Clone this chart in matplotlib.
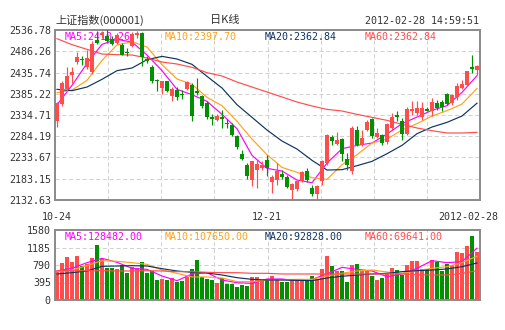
import matplotlib
matplotlib.use('Agg')
import matplotlib.pyplot as plt
import numpy as np

W, H = 505, 330

# ---------------- data ----------------
opens = [2321.2, 2360.8, 2396.5, 2429.8, 2459.9, 2468.6, 2448.0, 2436.1, 2512.2, 2524.1,
         2521.7, 2515.4, 2505.8, 2500.3, 2484.5, 2497.9, 2524.1, 2529.6, 2467.8, 2448.0,
         2418.7, 2398.9, 2414.7, 2379.0, 2394.9, 2385.4, 2397.3, 2406.8, 2392.5, 2379.0,
         2363.2, 2329.1, 2322.0, 2329.9, 2315.6, 2311.7, 2283.9, 2242.7, 2216.6, 2180.9,
         2204.7, 2208.7, 2228.5, 2175.4, 2180.9, 2195.2, 2187.3, 2157.2, 2158.8, 2177.0,
         2202.3, 2161.1, 2146.9, 2178.5, 2220.6, 2281.6, 2265.7, 2277.6, 2230.1, 2200.7,
         2298.2, 2264.1, 2299.8, 2325.2, 2282.4, 2287.9, 2270.5, 2303.8, 2333.9, 2319.6,
         2289.5, 2343.4, 2339.4, 2329.1, 2349.7, 2343.4, 2363.2, 2365.6, 2385.4, 2363.2,
         2376.7, 2398.9, 2406.8, 2448.0, 2442.5]
highs = [2365.6, 2414.7, 2448.8, 2448.8, 2484.5, 2474.1, 2490.0, 2509.8, 2533.6, 2533.6,
         2539.1, 2521.7, 2529.6, 2505.8, 2494.0, 2532.0, 2533.6, 2532.0, 2474.1, 2452.8,
         2420.3, 2416.3, 2416.3, 2400.5, 2400.5, 2394.9, 2414.7, 2410.8, 2422.6, 2383.0,
         2367.2, 2337.0, 2337.0, 2347.4, 2326.0, 2315.6, 2287.9, 2252.2, 2220.6, 2226.1,
         2228.5, 2224.5, 2238.8, 2192.8, 2220.6, 2204.7, 2192.8, 2173.0, 2180.9, 2200.7,
         2208.7, 2169.0, 2169.0, 2228.5, 2289.5, 2287.9, 2294.3, 2280.0, 2244.3, 2307.7,
         2309.3, 2299.8, 2323.6, 2327.6, 2303.8, 2289.5, 2315.6, 2339.4, 2343.4, 2327.6,
         2352.9, 2367.2, 2367.2, 2365.6, 2354.5, 2375.1, 2371.1, 2371.1, 2387.0, 2384.6,
         2410.8, 2418.7, 2438.5, 2478.1, 2454.3]
lows = [2305.4, 2356.9, 2390.9, 2410.8, 2455.9, 2454.3, 2444.8, 2432.9, 2503.5, 2517.7,
        2505.8, 2500.3, 2503.5, 2476.5, 2474.1, 2495.5, 2517.7, 2450.4, 2458.3, 2410.8,
        2390.9, 2385.4, 2388.6, 2368.8, 2371.1, 2373.5, 2394.9, 2319.6, 2383.0, 2351.3,
        2326.0, 2311.7, 2319.6, 2303.8, 2303.8, 2283.9, 2254.6, 2228.5, 2183.3, 2165.1,
        2161.1, 2204.7, 2188.9, 2149.2, 2169.0, 2183.3, 2161.1, 2133.4, 2153.2, 2174.6,
        2175.4, 2141.3, 2134.0, 2169.0, 2216.6, 2264.1, 2264.1, 2224.5, 2204.7, 2195.2,
        2260.2, 2260.2, 2295.9, 2280.0, 2280.0, 2262.6, 2265.7, 2299.8, 2319.6, 2276.0,
        2286.3, 2333.9, 2333.9, 2323.6, 2343.4, 2331.5, 2347.4, 2343.4, 2357.6, 2357.6,
        2371.1, 2396.5, 2404.4, 2434.5, 2430.6]
closes = [2363.2, 2410.8, 2428.2, 2436.1, 2472.6, 2465.4, 2470.2, 2503.5, 2505.8, 2529.6,
          2509.8, 2503.5, 2525.7, 2478.1, 2481.3, 2527.2, 2529.6, 2472.6, 2462.3, 2414.7,
          2416.3, 2414.7, 2390.9, 2397.3, 2377.5, 2381.4, 2412.3, 2331.5, 2387.0, 2355.3,
          2329.1, 2326.0, 2333.1, 2326.0, 2313.3, 2287.9, 2258.6, 2230.9, 2190.5, 2224.5,
          2218.2, 2215.0, 2208.7, 2186.5, 2200.7, 2187.3, 2162.7, 2170.6, 2177.0, 2199.2,
          2180.9, 2146.9, 2165.1, 2224.5, 2286.3, 2272.1, 2274.5, 2242.0, 2215.0, 2303.8,
          2264.1, 2280.0, 2317.2, 2283.9, 2291.9, 2268.1, 2313.3, 2329.1, 2330.7, 2289.5,
          2348.9, 2349.7, 2351.3, 2351.3, 2345.0, 2365.6, 2351.3, 2352.9, 2360.8, 2383.0,
          2402.8, 2408.4, 2438.5, 2444.8, 2452.0]
volumes = [654, 842, 978, 858, 993, 775, 812, 956, 1241, 918,
           730, 730, 700, 790, 617, 737, 715, 858, 617, 662,
           451, 474, 451, 504, 414, 436, 527, 692, 903, 527,
           474, 451, 391, 489, 361, 361, 300, 338, 316, 512,
           512, 451, 466, 542, 474, 414, 414, 451, 466, 466,
           451, 542, 466, 700, 993, 767, 654, 654, 414, 790,
           812, 662, 662, 542, 451, 504, 587, 715, 677, 564,
           790, 880, 880, 692, 692, 903, 865, 662, 812, 790,
           1076, 1053, 1226, 1444, 1091]

# moving-average lines at every third trading day
ma_days = [0, 3, 6, 9, 12, 15, 18, 21, 24, 27, 30, 33, 36, 39, 42,
           45, 48, 51, 54, 57, 60, 63, 66, 69, 72, 75, 78, 81, 84]
price_ma5 = [2359.2, 2405.2, 2457.5, 2502.7, 2514.6, 2508.2, 2477.3, 2440.1, 2395.7, 2383.0,
             2367.2, 2336.2, 2302.2, 2238.8, 2207.9, 2201.5, 2180.1, 2173.8, 2220.5, 2254.6,
             2262.5, 2268.1, 2289.5, 2314.1, 2329.9, 2345.8, 2356.9, 2388.5, 2428.3]
price_ma10 = [2387.8, 2394.1, 2417.1, 2464.6, 2501.1, 2509.0, 2496.3, 2454.3, 2420.3, 2407.6,
              2376.7, 2356.9, 2319.6, 2277.6, 2240.4, 2210.2, 2198.4, 2185.7, 2181.7, 2216.6,
              2240.4, 2268.1, 2277.6, 2299.0, 2314.1, 2332.3, 2345.0, 2360.8, 2397.7]
price_ma20 = [2395.7, 2392.5, 2401.2, 2419.5, 2440.1, 2446.4, 2466.2, 2474.1, 2467.8, 2455.1,
              2426.6, 2398.9, 2359.2, 2329.1, 2299.0, 2272.8, 2253.8, 2226.9, 2203.9, 2204.7,
              2214.2, 2224.5, 2242.7, 2262.5, 2290.3, 2306.1, 2317.2, 2332.3, 2362.84]
price_ma60 = [2516.1, 2501.9, 2490.8, 2479.7, 2478.1, 2477.3, 2470.2, 2460.7, 2455.9, 2448.0,
              2435.3, 2427.4, 2413.1, 2401.2, 2389.3, 2377.5, 2365.6, 2356.1, 2348.1, 2344.2,
              2336.2, 2329.1, 2322.0, 2312.5, 2303.8, 2297.4, 2291.9, 2291.9, 2293.5]
vol_ma5 = [655, 715, 843, 940, 850, 715, 692, 542, 436, 587, 617, 451, 391, 376, 474,
           474, 436, 466, 587, 737, 692, 655, 527, 587, 715, 888, 843, 865, 1170]
vol_ma10 = [640, 677, 775, 888, 873, 843, 805, 677, 602, 520, 520, 497, 414, 414, 451,
            459, 466, 466, 542, 602, 655, 677, 632, 602, 662, 715, 752, 843, 990]
vol_ma20 = [587, 617, 655, 760, 767, 775, 767, 707, 655, 625, 610, 564, 504, 466, 451,
            451, 444, 436, 497, 535, 564, 587, 602, 640, 662, 677, 700, 752, 835]
vol_ma60 = [662, 662, 662, 662, 655, 655, 662, 655, 640, 640, 625, 617, 617, 602, 602,
            587, 587, 587, 587, 587, 587, 587, 587, 587, 572, 564, 564, 602, 662]

price_ticks = [2132.63, 2183.15, 2233.67, 2284.19, 2334.71, 2385.22, 2435.74, 2486.26, 2536.78]
vol_ticks = [0, 395, 790, 1185, 1580]
date_labels = ['10-24', '12-21', '2012-02-28']
date_idx = [0, 42, 84]

title_left = '上证指数(000001)'
title_mid = '日K线'
title_time = '2012-02-28 14:59:51'
price_ma_labels = ['MA5:2410.26', 'MA10:2397.70', 'MA20:2362.84', 'MA60:2362.84']
vol_ma_labels = ['MA5:128482.00', 'MA10:107650.00', 'MA20:92828.00', 'MA60:69641.00']

# ---------------- styling ----------------
UP = '#ff4d4d'
DOWN = '#009000'
MA_COLORS = ['#ff00ff', '#ffa218', '#0c3463', '#ff4d4d']
GRID = '#d2d2d2'
SPINE = '#8a8a8a'
TXT = '#333333'
MONO = 'DejaVu Sans Mono'
CJK = ['Noto Sans CJK SC', 'DejaVu Sans']

fig = plt.figure(figsize=(W / 100, H / 100), dpi=100)
fig.patch.set_facecolor('white')


def rect(l, t, r, b):
    return [l / W, 1 - b / H, (r - l) / W, (b - t) / H]


ax = fig.add_axes(rect(55, 30, 480, 200))
axv = fig.add_axes(rect(55, 230, 480, 300))

n = len(closes)
idx = np.arange(n)
o = np.array(opens); c = np.array(closes)
colors = [UP if cc >= oo else DOWN for oo, cc in zip(opens, closes)]
xlo, xhi = -0.4, n - 0.4

for a in (ax, axv):
    a.set_xlim(xlo, xhi)
    for s in a.spines.values():
        s.set_color(SPINE)
        s.set_linewidth(1.4)
    a.tick_params(axis='both', length=0, labelsize=7.2, labelcolor=TXT, pad=3)
    a.set_xticks([])
    for k in range(1, 8):
        a.axvline(xlo + k * (xhi - xlo) / 8, color=GRID, lw=0.75,
                  ls=(0, (4, 2.5)), zorder=0)
    for lab in a.get_yticklabels():
        lab.set_family(MONO)

# price panel
ax.set_ylim(price_ticks[0], price_ticks[-1])
ax.set_yticks(price_ticks)
ax.set_yticklabels([f'{v:.2f}' for v in price_ticks], family=MONO)
for v in price_ticks[1:-1]:
    ax.axhline(v, color=GRID, lw=0.75, ls=(0, (4, 2.5)), zorder=0)

for days, vals, col in zip([ma_days] * 4, [price_ma5, price_ma10, price_ma20, price_ma60], MA_COLORS):
    ax.plot(days, vals, color=col, lw=0.85, zorder=2)

ax.vlines(idx, lows, highs, colors=colors, lw=0.85, zorder=3)
body_bottom = np.minimum(o, c)
body_h = np.maximum(np.abs(c - o), 1.3)
ax.bar(idx, body_h, bottom=body_bottom, width=0.8, color=colors, linewidth=0, zorder=4)

for k, (lab, col) in enumerate(zip(price_ma_labels, MA_COLORS)):
    ax.text((65 + 100 * k) / W, 1 - 37.5 / H, lab, transform=fig.transFigure, color=col,
            fontsize=7.2, family=MONO, va='center', ha='left', zorder=1)

# volume panel
axv.set_ylim(vol_ticks[0], vol_ticks[-1])
axv.set_yticks(vol_ticks)
axv.set_yticklabels([str(v) for v in vol_ticks], family=MONO)
for v in vol_ticks[1:-1]:
    axv.axhline(v, color=GRID, lw=0.75, ls=(0, (4, 2.5)), zorder=0)
axv.bar(idx, volumes, width=0.8, color=colors, linewidth=0, zorder=2)
for vals, col in zip([vol_ma5, vol_ma10, vol_ma20, vol_ma60], MA_COLORS):
    axv.plot(ma_days, vals, color=col, lw=0.85, zorder=3)
for k, (lab, col) in enumerate(zip(vol_ma_labels, MA_COLORS)):
    axv.text((65 + 100 * k) / W, 1 - 237 / H, lab, transform=fig.transFigure, color=col,
             fontsize=7.2, family=MONO, va='center', ha='left', zorder=4)

# header
fig.text(55 / W, 1 - 20.5 / H, title_left, family=CJK, fontsize=8, color=TXT,
         ha='left', va='center')
fig.text(225 / W, 1 - 20.5 / H, title_mid, family=CJK, fontsize=8, color=TXT,
         ha='center', va='center')
fig.text(479 / W, 1 - 20.5 / H, title_time, family=MONO, fontsize=7.2, color=TXT,
         ha='right', va='center')

# date labels under the price panel
px_per_day = (480 - 55) / (xhi - xlo)
for lab, d in zip(date_labels, date_idx):
    px = 55 + (d - xlo) * px_per_day
    if d == date_idx[-1]:
        fig.text(498 / W, 1 - 216.5 / H, lab, family=MONO, fontsize=7.2, color=TXT,
                 ha='right', va='center')
    else:
        fig.text(px / W, 1 - 216.5 / H, lab, family=MONO, fontsize=7.2, color=TXT,
                 ha='center', va='center')

fig.savefig('out.png', dpi=100, facecolor='white')
